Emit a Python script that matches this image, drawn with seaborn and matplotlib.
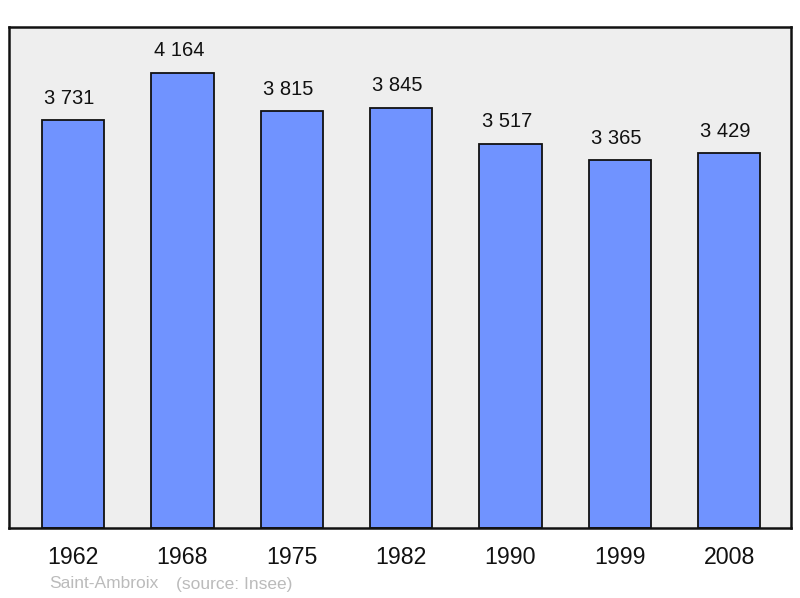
import seaborn as sns
import matplotlib.pyplot as plt
import pandas as pd

years = ["1962", "1968", "1975", "1982", "1990", "1999", "2008"]
population = [3731, 4164, 3815, 3845, 3517, 3365, 3429]
labels = ["3 731", "4 164", "3 815", "3 845", "3 517", "3 365", "3 429"]

df = pd.DataFrame({"year": years, "pop": population})

sns.set_style("white")
plt.rcParams['font.family'] = ['Liberation Sans', 'DejaVu Sans']

fig = plt.figure(figsize=(8, 5.98), dpi=100)
ax = fig.add_axes([9 / 800, 70 / 598, 782 / 800, 501 / 598])
ax.set_facecolor("#eeeeee")

sns.barplot(data=df, x="year", y="pop", color="#7093ff", saturation=1,
            width=0.57, edgecolor="#111111", linewidth=1.3, ax=ax)

# value labels above the bars
for i, (v, t) in enumerate(zip(population, labels)):
    ax.annotate(t, (i, v), xytext=(-2.5, 9), textcoords="offset points",
                ha="center", va="bottom", fontsize=14.5, color="#111111")

ax.set_xlim(-0.585, 6.565)
ax.set_ylim(0, 4584)
ax.set_xlabel("")
ax.set_ylabel("")
ax.set_yticks([])
ax.tick_params(axis="x", length=0, labelsize=16.7, pad=13, colors="#111111")
for s in ax.spines.values():
    s.set_visible(True)
    s.set_color("#111111")
    s.set_linewidth(1.8)

fig.text(49 / 800, 1 - 584 / 598, "Saint-Ambroix", fontsize=12.5,
         color="#bbbbbb", va="center", ha="left")
fig.text(176 / 800, 1 - 584 / 598, "(source: Insee)", fontsize=12.5,
         color="#bbbbbb", va="center", ha="left")

fig.savefig("out.png", dpi=100)
